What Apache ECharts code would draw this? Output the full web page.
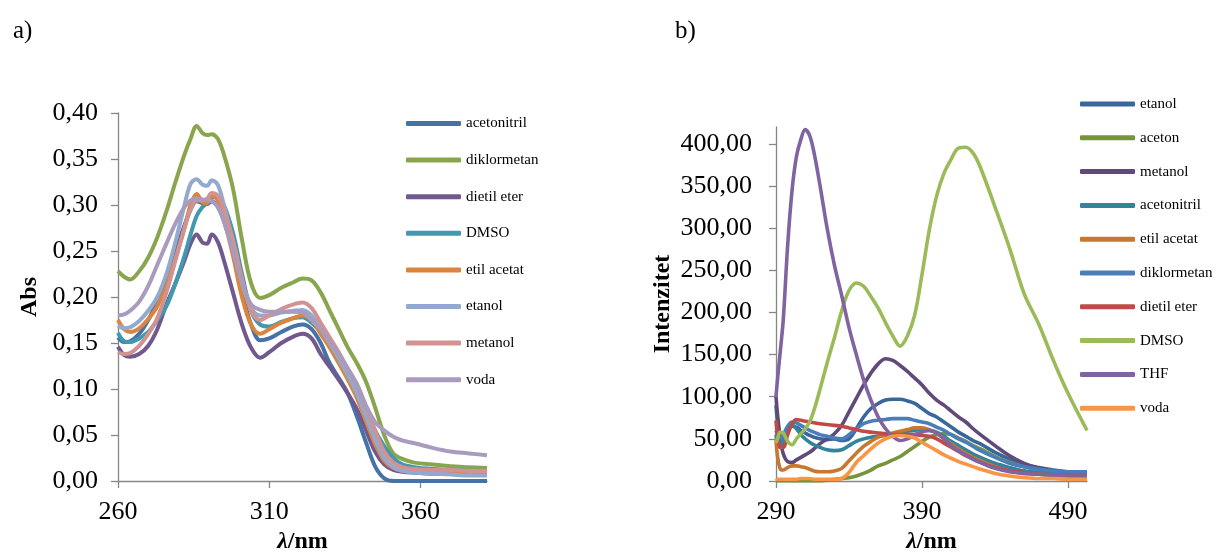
<!DOCTYPE html>
<html>
<head>
<meta charset="utf-8">
<script src="https://cdn.jsdelivr.net/npm/echarts@6/dist/echarts.min.js"></script>
<style>
html,body{margin:0;padding:0;background:#fff;}
#c{width:1216px;height:556px;}
</style>
</head>
<body>
<div id="c"></div>
<script>
// ---------- Panel a) absorption ----------
var wlA = [260,262,264,267,270,273,276,279,282,284,286,288,289.5,291,293,295,298,301,304,307,310,314,318,321,324,327,330,333,336,339,342,345,348,351,354,358,364,370,376,382];
var namesA = ['acetonitril','diklormetan','dietil eter','DMSO','etil acetat','etanol','metanol','voda'];
var colorsA = ['#4572A7','#89A54E','#71588F','#4198AF','#DB843D','#93A9CF','#D19392','#A99BBD'];
var absAcetonitril = [0.156,0.151,0.152,0.160,0.175,0.196,0.222,0.250,0.278,0.295,0.304,0.302,0.301,0.304,0.298,0.283,0.250,0.205,0.170,0.153,0.155,0.162,0.168,0.170,0.165,0.150,0.128,0.112,0.095,0.070,0.042,0.016,0.003,0,0,0,0,0,0,0];
var absDiklormetan = [0.228,0.222,0.219,0.228,0.243,0.265,0.293,0.325,0.355,0.372,0.386,0.378,0.376,0.377,0.372,0.355,0.318,0.262,0.215,0.199,0.202,0.210,0.216,0.220,0.218,0.205,0.185,0.165,0.145,0.128,0.108,0.080,0.050,0.030,0.024,0.020,0.018,0.016,0.015,0.014];
var absDietilEter = [0.146,0.137,0.135,0.138,0.147,0.165,0.192,0.215,0.240,0.258,0.268,0.259,0.258,0.268,0.260,0.240,0.205,0.170,0.145,0.134,0.140,0.150,0.157,0.160,0.155,0.138,0.124,0.110,0.095,0.078,0.055,0.032,0.018,0.012,0.010,0.009,0.008,0.008,0.007,0.007];
var absDMSO = [0.161,0.152,0.151,0.155,0.162,0.175,0.190,0.215,0.245,0.268,0.288,0.298,0.302,0.308,0.309,0.300,0.270,0.225,0.185,0.170,0.168,0.173,0.177,0.178,0.172,0.162,0.150,0.138,0.120,0.100,0.080,0.055,0.038,0.025,0.018,0.015,0.013,0.012,0.011,0.010];
var absEtilAcetat = [0.175,0.165,0.162,0.166,0.176,0.190,0.212,0.242,0.275,0.300,0.312,0.303,0.302,0.310,0.305,0.285,0.245,0.200,0.170,0.160,0.165,0.172,0.177,0.180,0.175,0.160,0.145,0.128,0.110,0.090,0.065,0.040,0.022,0.014,0.011,0.010,0.009,0.009,0.008,0.008];
var absEtanol = [0.169,0.166,0.167,0.174,0.185,0.200,0.225,0.260,0.300,0.323,0.328,0.322,0.321,0.327,0.322,0.300,0.260,0.215,0.188,0.180,0.180,0.183,0.185,0.186,0.180,0.165,0.150,0.133,0.115,0.095,0.070,0.045,0.025,0.015,0.011,0.009,0.008,0.007,0.006,0.006];
var absMetanol = [0.140,0.138,0.139,0.147,0.160,0.177,0.205,0.240,0.275,0.295,0.305,0.305,0.307,0.313,0.310,0.295,0.262,0.220,0.185,0.175,0.180,0.187,0.192,0.194,0.188,0.172,0.156,0.140,0.122,0.105,0.080,0.055,0.032,0.020,0.015,0.013,0.012,0.012,0.011,0.011];
var absVoda = [0.180,0.181,0.185,0.195,0.212,0.235,0.258,0.280,0.298,0.305,0.307,0.306,0.305,0.304,0.298,0.282,0.250,0.215,0.192,0.186,0.184,0.184,0.184,0.183,0.175,0.165,0.152,0.138,0.122,0.105,0.082,0.064,0.055,0.048,0.044,0.041,0.036,0.032,0.030,0.028];
var valuesA = [absAcetonitril,absDiklormetan,absDietilEter,absDMSO,absEtilAcetat,absEtanol,absMetanol,absVoda];
var ticksAx = [260,310,360];
var ticksAy = [0,0.05,0.10,0.15,0.20,0.25,0.30,0.35,0.40];

// ---------- Panel b) fluorescence ----------
var wlB = [290,291,293,295,298,301,304,307,310,313,316,320,325,330,335,340,345,350,355,360,365,370,375,380,385,390,395,400,405,410,415,420,425,430,440,450,460,470,480,490,503];
var namesB = ['etanol','aceton','metanol','acetonitril','etil acetat','diklormetan','dietil eter','DMSO','THF','voda'];
var colorsB = ['#3A679B','#77933C','#604A7B','#31849B','#C6782E','#4A7EBB','#BE4B48','#9BBB59','#8064A2','#F79646'];
var intEtanol = [90,70,42,45,58,65,64,60,57,54,52,50,49,50,48,50,62,76,86,92,96,97,97,95,92,86,80,76,70,64,58,53,48,44,34,26,20,16,13,11,10];
var intAceton = [0,0,0,0,0,0,0,0,0,0,0,0,1,2,3,4,6,9,13,18,21,25,29,35,41,47,52,55,56,55,51,47,42,38,29,22,17,14,12,10,9];
var intMetanol = [100,80,50,32,23,22,25,28,31,34,38,44,50,56,66,82,98,114,128,139,145,143,137,130,122,114,104,96,90,83,76,70,62,55,42,30,21,15,12,10,9];
var intAcetonitril = [55,45,40,50,62,66,62,55,50,46,43,40,37,36,37,42,47,50,52,53,54,55,57,59,60,61,60,58,53,47,42,37,32,28,21,16,12,10,9,8,8];
var intEtilAcetat = [50,30,14,13,16,18,18,17,16,14,12,11,11,12,15,24,33,41,47,52,55,57,59,61,63,63,61,57,50,44,38,33,28,24,17,12,9,8,7,6,6];
var intDiklormetan = [60,55,50,55,65,70,69,66,63,60,58,55,53,51,50,55,62,68,71,72,73,74,74,74,72,70,68,64,60,55,50,46,41,36,28,21,17,14,12,11,11];
var intDietilEter = [72,55,40,40,55,68,73,72,71,70,69,68,67,66,65,63,61,59,58,57,56,55,55,55,55,54,53,50,45,40,35,30,26,22,16,12,10,8,7,7,6];
var intDMSO = [45,50,58,57,47,43,50,56,62,70,84,108,140,170,202,226,235,231,219,205,188,172,160,172,197,245,298,338,365,382,395,396,389,372,325,276,222,186,143,104,60];
var intTHF = [100,120,155,192,280,345,385,405,417,410,390,352,300,256,220,182,150,120,96,76,62,53,48,50,55,58,60,57,50,42,36,31,26,22,15,11,9,8,7,6,6];
var intVoda = [3,2,2,2,2,2,2,3,3,3,2,2,2,2,3,10,22,30,38,45,50,53,54,53,51,46,41,36,31,27,23,20,17,14,9,6,4,3,3,2,2];
var valuesB = [intEtanol,intAceton,intMetanol,intAcetonitril,intEtilAcetat,intDiklormetan,intDietilEter,intDMSO,intTHF,intVoda];
var ticksBx = [290,390,490];
var ticksBy = [0,50,100,150,200,250,300,350,400];

var FONT = '"Liberation Serif","Times New Roman",serif';
var AXC = '#868686';

function commaFmt(d){ return function(v){ return v.toFixed(d).replace('.', ','); }; }

function xAxisCfg(idx, min, max, ticks){
  return {
    type:'value', gridIndex: idx, min:min, max:max,
    name:'{i|λ}{b|/nm}', nameLocation:'middle', nameGap:49,
    nameTextStyle:{ rich:{ i:{fontFamily:FONT,fontSize:24,fontWeight:'bold',fontStyle:'italic',color:'#000'}, b:{fontFamily:FONT,fontSize:24,fontWeight:'bold',color:'#000'} } },
    axisLine:{show:true,onZero:false,lineStyle:{color:AXC,width:1.3}},
    axisTick:{show:true,length:7,lineStyle:{color:AXC,width:1.3},customValues:ticks},
    axisLabel:{color:'#000',fontFamily:FONT,fontSize:26,margin:18,customValues:ticks},
    splitLine:{show:false}
  };
}
function yAxisCfg(idx, min, max, ticks, name, gap, dec, margin){
  return {
    type:'value', gridIndex: idx, min:min, max:max,
    name:name, nameLocation:'middle', nameGap:gap, nameRotate:90,
    nameTextStyle:{fontFamily:FONT,fontSize:24,fontWeight:'bold',color:'#000'},
    axisLine:{show:true,lineStyle:{color:AXC,width:1.3}},
    axisTick:{show:true,length:7,lineStyle:{color:AXC,width:1.3},customValues:ticks},
    axisLabel:{color:'#000',fontFamily:FONT,fontSize:26,margin:margin,formatter:commaFmt(dec),customValues:ticks},
    splitLine:{show:false}
  };
}

var series = [];
namesA.forEach(function(n,k){
  series.push({
    name:'a:'+n, type:'line', xAxisIndex:0, yAxisIndex:0, smooth:0.35, showSymbol:false,
    lineStyle:{width:4,color:colorsA[k]}, itemStyle:{color:colorsA[k]},
    data: wlA.map(function(x,i){ return [x, valuesA[k][i]]; })
  });
});
namesB.forEach(function(n,k){
  series.push({
    name:'b:'+n, type:'line', xAxisIndex:1, yAxisIndex:1, smooth:0.35, showSymbol:false,
    lineStyle:{width:3.6,color:colorsB[k]}, itemStyle:{color:colorsB[k]},
    data: wlB.map(function(x,i){ return [x, valuesB[k][i]]; })
  });
});

function legendCfg(prefix, names, left, top, gap){
  return {
    orient:'vertical', left:left, top:top, padding:0, itemWidth:55, itemHeight:5, itemGap:gap,
    icon:'roundRect', selectedMode:false,
    data: names.map(function(n){ return prefix+n; }),
    formatter:function(name){ return name.slice(2); },
    textStyle:{fontFamily:FONT,fontSize:15,color:'#000',lineHeight:15}
  };
}

var chart = echarts.init(document.getElementById('c'), null, {renderer:'canvas'});
chart.setOption({
  backgroundColor:'#fff',
  animation:false,
  title:[
    {text:'a)', left:8, top:14, textStyle:{fontFamily:FONT,fontSize:25,fontWeight:'normal',color:'#000'}},
    {text:'b)', left:670, top:14, textStyle:{fontFamily:FONT,fontSize:25,fontWeight:'normal',color:'#000'}}
  ],
  grid:[
    {left:118, top:113, width:369, height:368, outerBoundsMode:'none', containLabel:false},
    {left:776, top:127, width:311, height:354, outerBoundsMode:'none', containLabel:false}
  ],
  xAxis:[ xAxisCfg(0,260,382,ticksAx), xAxisCfg(1,290,503,ticksBx) ],
  yAxis:[ yAxisCfg(0,0,0.40,ticksAy,'Abs',76,2,20), yAxisCfg(1,0,420,ticksBy,'Intenzitet',101,2,24) ],
  legend:[ legendCfg('a:',namesA,406,116,21.6), legendCfg('b:',namesB,1080,96.5,18.8) ],
  series: series
});
</script>
</body>
</html>
